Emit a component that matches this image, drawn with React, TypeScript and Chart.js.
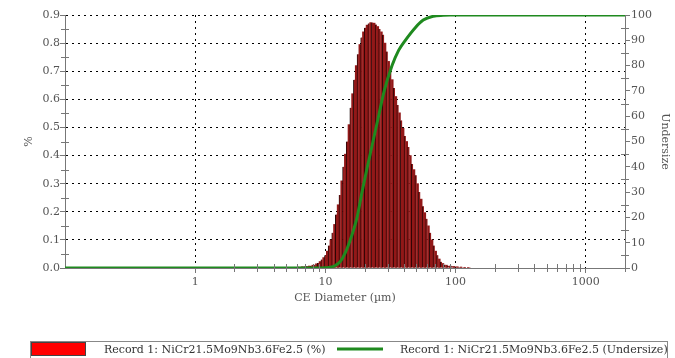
import React, { useEffect, useRef } from 'react';
import { Chart, registerables } from 'chart.js';

Chart.register(...registerables);

// Histogram bin centres (µm) and % per bin
const diameters = [
  5.623, 5.806, 5.995, 6.19, 6.391, 6.599, 6.813, 7.035, 7.263, 7.499,
  7.743, 7.995, 8.254, 8.523, 8.799, 9.085, 9.38, 9.685, 10.0, 10.325,
  10.66, 11.007, 11.365, 11.734, 12.115, 12.509, 12.915, 13.335, 13.768, 14.216,
  14.678, 15.155, 15.647, 16.156, 16.681, 17.223, 17.783, 18.361, 18.957, 19.573,
  20.209, 20.866, 21.544, 22.244, 22.967, 23.714, 24.484, 25.28, 26.102, 26.95,
  27.826, 28.73, 29.664, 30.628, 31.623, 32.651, 33.711, 34.807, 35.938, 37.106,
  38.312, 39.557, 40.842, 42.17, 43.541, 44.956, 46.416, 47.925, 49.482, 51.09,
  52.75, 54.465, 56.234, 58.062, 59.948, 61.897, 63.908, 65.985, 68.129, 70.343,
  72.629, 74.989, 77.426, 79.942, 82.54, 85.222, 87.992, 90.851, 93.804, 96.852,
  100.0, 103.25, 106.61, 110.07, 113.65, 117.34, 121.15, 125.09, 129.15,
];
const percent = [
  0.002, 0.0025, 0.003, 0.0035, 0.004, 0.0045, 0.005, 0.0055, 0.006, 0.007,
  0.008, 0.01, 0.012, 0.015, 0.018, 0.023, 0.03, 0.037, 0.045, 0.06,
  0.08, 0.1, 0.125, 0.155, 0.19, 0.225, 0.26, 0.31, 0.36, 0.405,
  0.45, 0.51, 0.57, 0.62, 0.67, 0.72, 0.76, 0.795, 0.82, 0.84,
  0.855, 0.864, 0.87, 0.873, 0.873, 0.871, 0.866, 0.859, 0.85, 0.84,
  0.83, 0.8, 0.77, 0.735, 0.7, 0.67, 0.64, 0.61, 0.58, 0.552,
  0.525, 0.497, 0.47, 0.45, 0.43, 0.4, 0.37, 0.35, 0.33, 0.3,
  0.27, 0.245, 0.22, 0.197, 0.175, 0.15, 0.125, 0.1, 0.08, 0.06,
  0.045, 0.032, 0.022, 0.016, 0.012, 0.01, 0.008, 0.007, 0.006, 0.0055,
  0.005, 0.0045, 0.004, 0.0035, 0.003, 0.0025, 0.002, 0.0015, 0.001,
];

// Cumulative undersize curve
const undersizeDiameters = [
  0.1, 1, 5, 9.0, 10.0, 10.9, 11.9, 13.0, 14.2, 15.5, 17.5, 19.1, 21.0,
  23.2, 25.6, 28.3, 32.5, 36.5, 41.1, 49.0, 56.4, 67.3, 80, 91, 200, 2000,
];
const undersize = [
  0, 0, 0, 0, 0.1, 0.3, 1, 2.5, 6, 11, 20, 30, 40,
  50, 60, 70, 80, 86, 90, 95, 98, 99.5, 99.9, 100, 100, 100,
];

const xTickValues = [1, 10, 100, 1000];
const legendLabels = [
  'Record 1: NiCr21.5Mo9Nb3.6Fe2.5 (%)',
  'Record 1: NiCr21.5Mo9Nb3.6Fe2.5 (Undersize)',
];

const FONT = '"DejaVu Serif", serif';
const AXIS = '#777777';
const TEXT = '#555555';
const GREEN = '#1f8a1f';

const extrasPlugin = {
  id: 'extras',
  afterDraw(chart: any) {
    const ctx = chart.ctx;
    const { left, right, bottom } = chart.chartArea;
    const y = chart.scales.y;
    const y2 = chart.scales.y2;
    const x = chart.scales.x;
    ctx.save();
    ctx.strokeStyle = AXIS;
    ctx.lineWidth = 1;
    ctx.beginPath();
    for (let i = 0; i < 9; i++) {
      const py = Math.round(y.getPixelForValue(0.05 + i * 0.1)) + 0.5;
      ctx.moveTo(left - 4, py);
      ctx.lineTo(left + 4, py);
    }
    for (let i = 0; i < 10; i++) {
      const py = Math.round(y2.getPixelForValue(5 + i * 10)) + 0.5;
      ctx.moveTo(right - 4, py);
      ctx.lineTo(right + 4, py);
    }
    for (const d of xTickValues) {
      for (let m = 2; m <= 9; m++) {
        const v = d * m;
        if (v > 2000) continue;
        const px = Math.round(x.getPixelForValue(v)) + 0.5;
        ctx.moveTo(px, bottom - 4);
        ctx.lineTo(px, bottom + 4);
      }
    }
    ctx.stroke();

    // legend
    ctx.strokeStyle = '#888888';
    ctx.lineWidth = 1;
    ctx.strokeRect(30.5, 341.5, 637, 20);
    ctx.fillStyle = '#ff0000';
    ctx.fillRect(32, 343, 53, 12);
    ctx.strokeStyle = '#444';
    ctx.strokeRect(31.5, 342.5, 54, 13);
    ctx.font = '11px ' + FONT;
    ctx.fillStyle = '#333333';
    ctx.textBaseline = 'middle';
    ctx.textAlign = 'left';
    ctx.fillText(legendLabels[0], 104, 350);
    ctx.strokeStyle = GREEN;
    ctx.lineWidth = 3;
    ctx.beginPath();
    ctx.moveTo(337, 349);
    ctx.lineTo(383, 349);
    ctx.stroke();
    ctx.fillText(legendLabels[1], 400, 350);
    ctx.restore();
  },
};

export default function App() {
  const ref = useRef<HTMLCanvasElement>(null);
  useEffect(() => {
    if (!ref.current) return;
    const chart = new Chart(ref.current, {
      type: 'bar',
      data: {
        datasets: [
          {
            type: 'line',
            label: legendLabels[1],
            data: undersizeDiameters.map((d, i) => ({ x: d, y: undersize[i] })),
            xAxisID: 'x',
            yAxisID: 'y2',
            borderColor: GREEN,
            borderWidth: 3,
            pointRadius: 0,
            cubicInterpolationMode: 'monotone',
            order: 0,
          } as any,
          {
            type: 'bar',
            label: legendLabels[0],
            data: diameters.map((d, i) => ({ x: d, y: percent[i] })),
            xAxisID: 'x',
            yAxisID: 'y',
            backgroundColor: '#921818',
            borderColor: '#140000',
            borderWidth: (c: any) =>
              c.dataIndex % 2 === 0
                ? { top: 0, bottom: 0, left: 0.8, right: 0 }
                : { top: 0, bottom: 0, left: 0, right: 0 },
            borderSkipped: false,
            barPercentage: 1,
            categoryPercentage: 1,
            order: 1,
          } as any,
        ],
      },
      options: {
        animation: false,
        responsive: false,
        maintainAspectRatio: false,
        layout: { padding: { top: 15, left: 0, right: 0, bottom: 0 } },
        plugins: { legend: { display: false }, tooltip: { enabled: false } },
        scales: {
          x: {
            type: 'logarithmic',
            position: 'bottom',
            min: 0.1,
            max: 2000,
            offset: false,
            afterBuildTicks: (s: any) => {
              s.ticks = xTickValues.map((v) => ({ value: v, major: true }));
            },
            afterFit: (s: any) => {
              s.height = 90;
            },
            grid: {
              offset: false,
              color: '#000000',
              lineWidth: 1,
              drawTicks: true,
              tickLength: 5,
              tickColor: AXIS,
            },
            border: { display: true, color: AXIS, width: 1, dash: [2, 4] },
            ticks: {
              autoSkip: false,
              maxRotation: 0,
              padding: 3,
              color: TEXT,
              font: { family: FONT, size: 11 },
              callback: (v: any) => String(v),
            },
            title: {
              display: true,
              text: 'CE Diameter (µm)',
              color: TEXT,
              font: { family: FONT, size: 11 },
              padding: { top: 0, bottom: 53 },
            },
          },
          y: {
            type: 'linear',
            position: 'left',
            min: 0,
            max: 0.9,
            afterFit: (s: any) => {
              s.width = 65;
            },
            grid: {
              color: '#000000',
              lineWidth: 1,
              drawTicks: true,
              tickLength: 5,
              tickColor: AXIS,
            },
            border: { display: true, color: AXIS, width: 1, dash: [2, 4] },
            ticks: {
              stepSize: 0.1,
              padding: 0,
              color: TEXT,
              font: { family: FONT, size: 11 },
              callback: (v: any) => Number(v).toFixed(1),
            },
            title: {
              display: true,
              text: '%',
              color: TEXT,
              font: { family: FONT, size: 11 },
              padding: { top: 23, bottom: 0 },
            },
          },
          y2: {
            type: 'linear',
            position: 'right',
            min: 0,
            max: 100,
            afterFit: (s: any) => {
              s.width = 50;
            },
            grid: {
              drawOnChartArea: false,
              drawTicks: true,
              tickLength: 5,
              tickColor: AXIS,
            },
            border: { display: true, color: AXIS, width: 1 },
            ticks: {
              stepSize: 10,
              padding: 1,
              color: TEXT,
              font: { family: FONT, size: 11 },
            },
            title: {
              display: true,
              text: 'Undersize',
              color: TEXT,
              font: { family: FONT, size: 11 },
              padding: { top: 4, bottom: 0 },
            },
          },
        },
      } as any,
      plugins: [extrasPlugin],
    });
    return () => chart.destroy();
  }, []);
  return (
    <div style={{ position: 'fixed', left: 0, top: 0, width: 675, height: 358, background: '#fff' }}>
      <canvas ref={ref} width={675} height={358} style={{ width: 675, height: 358, display: 'block' }} />
    </div>
  );
}
